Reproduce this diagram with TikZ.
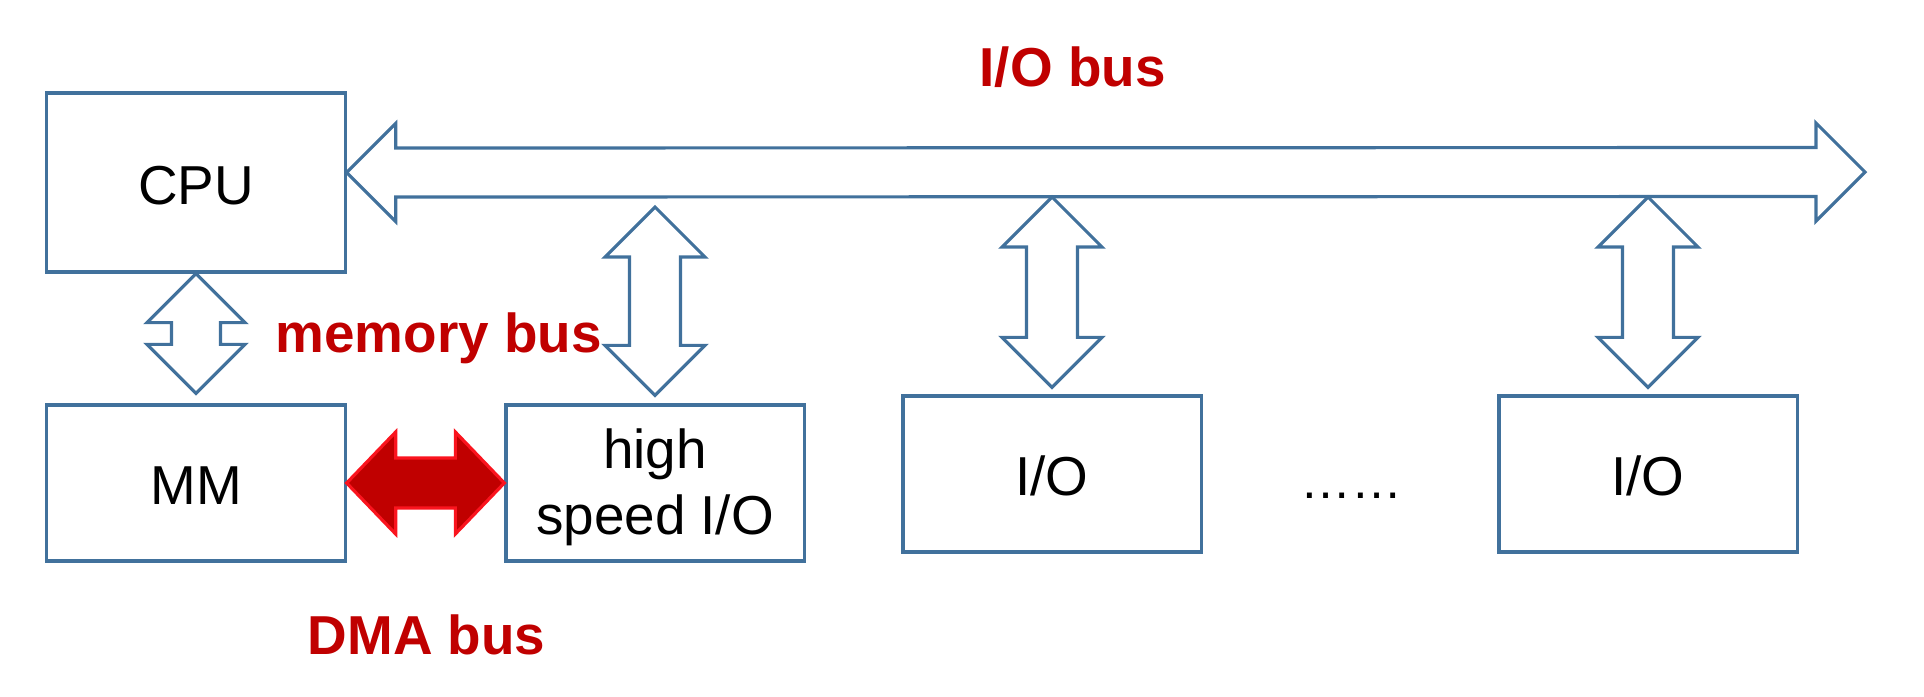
\documentclass[tikz,border=0pt]{standalone}
\usepackage{fontspec}
\setmainfont{Liberation Sans}
\usetikzlibrary{calc}
\definecolor{BusBlue}{RGB}{65,113,156}
\definecolor{BusRed}{RGB}{192,0,0}
\definecolor{DmaEdge}{RGB}{250,20,30}

% double block arrow: style, tip 1, tip 2, head length, head half width, shaft half width
\newcommand{\vbus}[6]{%
  \draw[#1] (#2) -- ($(#2)+(#5,#4)$) -- ($(#2)+(#6,#4)$) -- ($(#3)+(#6,-#4)$)
    -- ($(#3)+(#5,-#4)$) -- (#3) -- ($(#3)+(-#5,-#4)$) -- ($(#3)+(-#6,-#4)$)
    -- ($(#2)+(-#6,#4)$) -- ($(#2)+(-#5,#4)$) -- cycle;}
\newcommand{\hbus}[6]{%
  \draw[#1] (#2) -- ($(#2)+(#4,-#5)$) -- ($(#2)+(#4,-#6)$) -- ($(#3)+(-#4,-#6)$)
    -- ($(#3)+(-#4,-#5)$) -- (#3) -- ($(#3)+(-#4,#5)$) -- ($(#3)+(-#4,#6)$)
    -- ($(#2)+(#4,#6)$) -- ($(#2)+(#4,#5)$) -- cycle;}
% lower a text a little inside its box
\newcommand{\sinktext}[2]{\raisebox{-#1}[\height][\depth]{#2}}

\begin{document}
\begin{tikzpicture}[x=0.01cm, y=-0.01cm,
    unit/.style={draw=BusBlue, line width=0.9pt, minimum width=2.98cm,
                 minimum height=1.56cm, inner sep=0pt, align=center,
                 font=\fontsize{15.6}{18.6}\selectfont},
    bus/.style={draw=BusBlue, line width=0.9pt, line join=miter},
    dma/.style={draw=DmaEdge, fill=BusRed, line width=0.9pt},
    buslabel/.style={text=BusRed, inner sep=0pt,
                     font=\fontsize{15.6}{18.6}\selectfont\bfseries}
  ]
  \useasboundingbox (0,0) rectangle (1924,696);

  \node[unit, minimum height=1.79cm] (cpu) at (196,182.5) {\sinktext{0.8pt}{CPU}};
  \node[unit] (mm) at (196,483) {\sinktext{0.8pt}{MM}};
  \node[unit] (hsio) at (655,483) {\sinktext{1.5pt}{\begin{tabular}{@{}c@{}}high\\speed I/O\end{tabular}}};
  \node[unit] (io1) at (1052,474) {\sinktext{0.4pt}{I/O}};
  \node[unit] (io2) at (1648,474) {\sinktext{0.4pt}{I/O}};
  \node[inner sep=0pt, anchor=base, font=\fontsize{14.5}{16}\selectfont] (dots) at (1351,498) {……};

  % I/O bus
  \coordinate (busL) at ($(cpu.east)+(0,-10)$);
  \coordinate (busR) at (1865,172);
  \hbus{bus}{busL}{busR}{49}{49}{24.5}

  % memory bus
  \coordinate (memB) at ($(mm.north)+(0,-10)$);
  \vbus{bus}{cpu.south}{memB}{49}{49}{24.5}

  % links to the I/O bus
  \coordinate (hsT) at (655,207);
  \coordinate (hsB) at ($(hsio.north)+(0,-8)$);
  \vbus{bus}{hsT}{hsB}{50}{50}{25.5}
  \coordinate (ioaT) at (1052,197);
  \coordinate (ioaB) at ($(io1.north)+(0,-7)$);
  \vbus{bus}{ioaT}{ioaB}{50}{50}{25.5}
  \coordinate (iobT) at (1648,197);
  \coordinate (iobB) at ($(io2.north)+(0,-7)$);
  \vbus{bus}{iobT}{iobB}{50}{50}{25.5}

  % DMA bus
  \hbus{dma}{mm.east}{hsio.west}{49}{51}{25}

  \node[buslabel, anchor=base west] (iolbl) at (979,86) {I/O bus};
  \node[buslabel, anchor=base west] (memlbl) at (275,352) {memory bus};
  \node[buslabel, anchor=base west] (dmalbl) at (307,654) {DMA bus};
\end{tikzpicture}
\end{document}
